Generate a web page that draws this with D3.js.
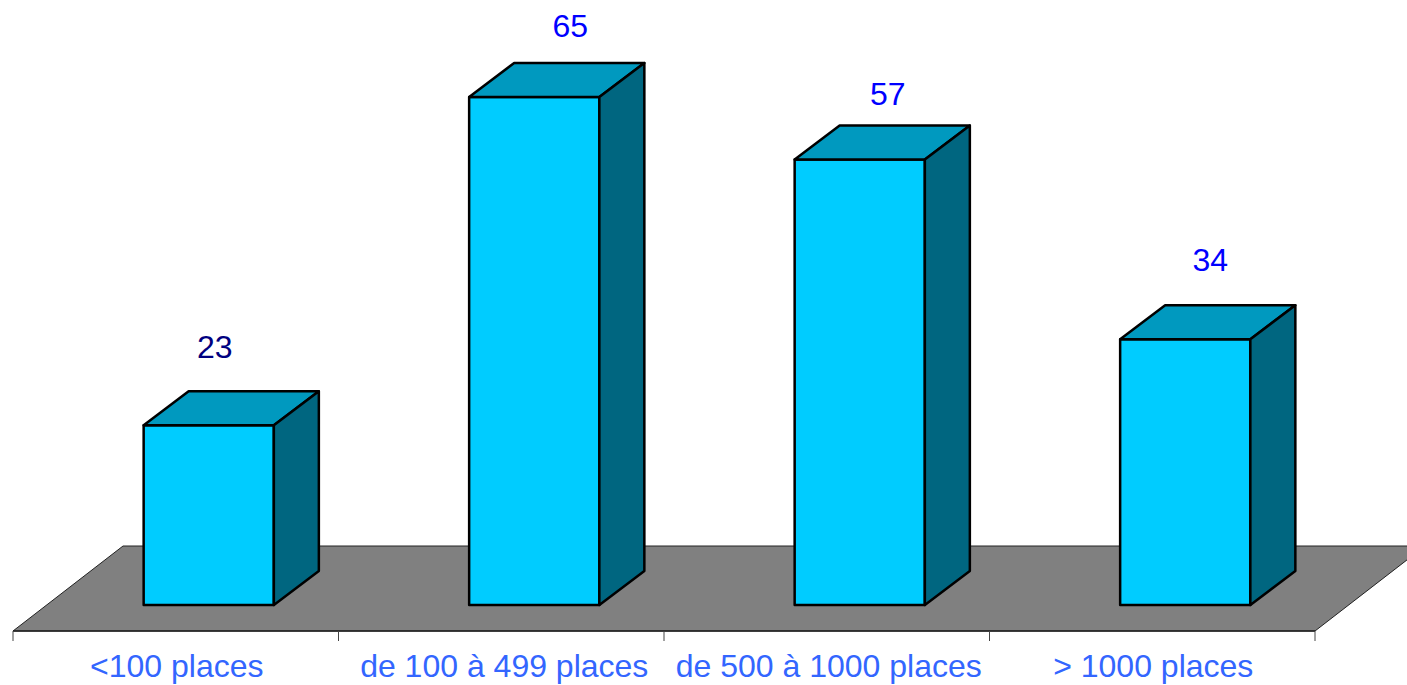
<!DOCTYPE html>
<html>
<head>
<meta charset="utf-8">
<script src="https://cdn.jsdelivr.net/npm/d3@7"></script>
<style>
  html, body { margin: 0; background: #fff; overflow: hidden; }
  svg { display: block; }
  text { font-family: "Liberation Sans", Arial, sans-serif; }
</style>
</head>
<body>
<svg width="1407" height="685"></svg>
<script>
var width = 1407;
var height = 685;

var categories = ["<100 places", "de 100 à 499 places", "de 500 à 1000 places", "> 1000 places"];
var values = [23, 65, 57, 34];
var valueColors = ["#000080", "#0000ff", "#0000ff", "#0000ff"];

var axisLeftX = 13, axisRightX = 1315, axisY = 631;
// how far the floor and the bars go back in the fake 3d
var floorDx = 110, floorDy = -85;
var barDx = 45, barDy = -34;
var barInsetX = 33, barInsetY = -26;
// the labels are not placed evenly in the original
var labelNudge = [6, 36, 28, 25];
var labelRaise = [67, 60, 54.5, 68];
var axisLabelNudge = [1, 3, 2, 1];

var svg = d3.select("svg");

var x = d3.scaleBand().domain(categories).range([axisLeftX, axisRightX]).paddingInner(0.6).paddingOuter(0.3);
var band = d3.scaleBand().domain(categories).range([axisLeftX, axisRightX]);
var y = d3.scaleLinear().domain([0, 65]).range([axisY + barInsetY, 97]);

function pts(list) {
  return list.map(function (p) { return p.join(","); }).join(" ");
}

// floor
svg.append("polygon")
  .attr("points", pts([
    [axisLeftX, axisY],
    [axisLeftX + floorDx, axisY + floorDy],
    [axisRightX + floorDx, axisY + floorDy],
    [axisRightX, axisY]
  ]))
  .attr("fill", "#808080")
  .attr("stroke", "#222")
  .attr("stroke-width", 1);

// axis, ticks sit on the band edges
var axisG = svg.append("g").attr("transform", "translate(0," + axisY + ")");
axisG.append("line")
  .attr("x1", axisLeftX).attr("x2", axisRightX)
  .attr("stroke", "#222").attr("stroke-width", 1.5);
axisG.selectAll("line.tick")
  .data(categories.concat(["end"]))
  .enter()
  .append("line")
  .attr("class", "tick")
  .attr("x1", function (d, i) { return axisLeftX + i * band.step(); })
  .attr("x2", function (d, i) { return axisLeftX + i * band.step(); })
  .attr("y2", 10)
  .attr("stroke", "#444");

axisG.selectAll("text")
  .data(categories)
  .enter()
  .append("text")
  .attr("x", function (d, i) { return band(d) + band.bandwidth() / 2 + axisLabelNudge[i]; })
  .attr("y", 45.5)
  .attr("text-anchor", "middle")
  .attr("font-size", 32)
  .attr("fill", "#3366ff")
  .text(function (d) { return d; });

// bars
var bars = svg.selectAll("g.bar")
  .data(values)
  .enter()
  .append("g")
  .attr("class", "bar")
  .attr("stroke", "#000")
  .attr("stroke-width", 2.5)
  .attr("stroke-linejoin", "round");

function left(d, i) { return x(categories[i]) + barInsetX; }
function right(d, i) { return left(d, i) + x.bandwidth(); }

bars.append("rect")
  .attr("x", left)
  .attr("y", function (d) { return y(d); })
  .attr("width", x.bandwidth())
  .attr("height", function (d) { return y(0) - y(d); })
  .attr("fill", "#00ccff");

bars.append("polygon")
  .attr("points", function (d, i) {
    var l = left(d, i), r = right(d, i), t = y(d);
    return pts([[l, t], [l + barDx, t + barDy], [r + barDx, t + barDy], [r, t]]);
  })
  .attr("fill", "#0099bf");

bars.append("polygon")
  .attr("points", function (d, i) {
    var r = right(d, i), t = y(d), b = y(0);
    return pts([[r, t], [r + barDx, t + barDy], [r + barDx, b + barDy], [r, b]]);
  })
  .attr("fill", "#006680");

// value labels
svg.selectAll("text.value")
  .data(values)
  .enter()
  .append("text")
  .attr("class", "value")
  .attr("x", function (d, i) { return left(d, i) + x.bandwidth() / 2 + labelNudge[i]; })
  .attr("y", function (d, i) { return y(d) - labelRaise[i]; })
  .attr("text-anchor", "middle")
  .attr("font-size", 32)
  .attr("fill", function (d, i) { return valueColors[i]; })
  .text(function (d) { return d; });
</script>
</body>
</html>
